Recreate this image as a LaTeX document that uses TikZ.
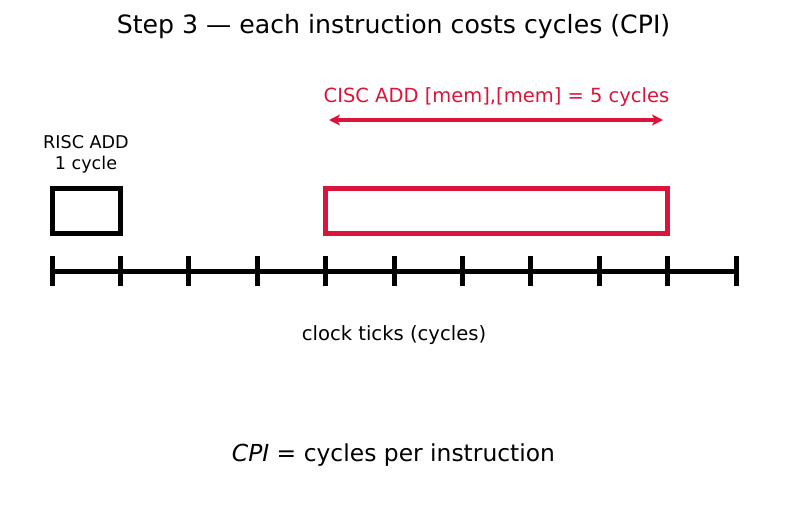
\documentclass[tikz,border=0pt]{standalone}
\usepackage{fontspec}
\setmainfont{DejaVu Sans}
\usetikzlibrary{arrows.meta}
\definecolor{cisc}{RGB}{220,20,60}
\begin{document}
\begin{tikzpicture}[x=1pt,y=-1pt,
  lbl/.style={inner sep=0pt,anchor=center},
  instrbox/.style={draw,line width=5pt,inner sep=0pt,minimum height=45pt},
  tickmark/.style={line width=5pt},
  axisline/.style={line width=5pt}]
\useasboundingbox (0,0) rectangle (787,511);
\node[lbl,font=\fontsize{25.2}{30}\selectfont] (title) at (393.5,27) {Step 3 — each instruction costs cycles (CPI)};
\node[lbl,font=\fontsize{17.6}{21}\selectfont,align=center] (risclbl) at (86,154) {RISC ADD\\1 cycle};
\node[lbl,font=\fontsize{19.5}{23}\selectfont,text=cisc] (cisclbl) at (496.5,97) {CISC ADD [mem],[mem] = 5 cycles};
\node[instrbox,minimum width=68.4pt] (risc) at (86.2,210.5) {};
\node[instrbox,draw=cisc,minimum width=342pt] (cisc) at (496,210.5) {};
\coordinate (aL) at (329,120);
\coordinate (aR) at (663,120);
\draw[cisc,line width=3.5pt,{Stealth[length=11pt,width=11pt,inset=3pt]}-{Stealth[length=11pt,width=11pt,inset=3pt]}] (aL) -- (aR);
\coordinate (ax0) at (52,271);
\coordinate (ax1) at (736,271);
\draw[axisline] (ax0) -- (ax1);
\foreach \i in {0,...,10} {
  \coordinate (t\i) at ({52+68.4*\i},271);
  \draw[tickmark] ([yshift=-15pt]t\i) -- ([yshift=15pt]t\i);
}
\node[lbl,font=\fontsize{19.6}{23}\selectfont] (clk) at (394,335) {clock ticks (cycles)};
\node[lbl,font=\fontsize{23.4}{28}\selectfont] (cpi) at (393.5,455) {\textit{CPI} = cycles per instruction};
\end{tikzpicture}
\end{document}
